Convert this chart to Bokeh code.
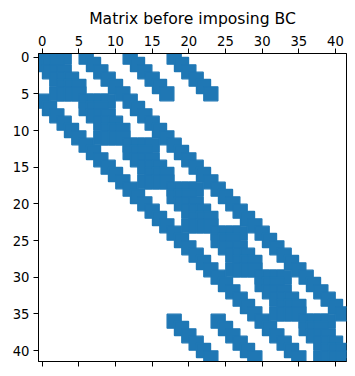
import numpy as np
from bokeh.plotting import figure
from bokeh.models import FixedTicker, LinearAxis, Range1d
from bokeh.embed import file_html
from bokeh.resources import INLINE

N = 42
NX = 6
NY = 7

# stencils that define the sparsity pattern (relative grid indices)
x_stencil = {0: [0, 1, 2, 3], 5: [2, 3, 4, 5]}
y_stencil = {0: [0, 1, 2, 3], 6: [3, 4, 5, 6]}

rows_list = []
cols_list = []
for j in range(NY):
    for i in range(NX):
        n = NX * j + i
        xs = x_stencil.get(i, [i - 1, i, i + 1])
        ys = y_stencil.get(j, [j - 1, j, j + 1])
        for ii in xs:
            rows_list.append(n)
            cols_list.append(NX * j + ii)
        for jj in ys:
            if jj != j:
                rows_list.append(n)
                cols_list.append(NX * jj + i)

tick_vals = [0, 5, 10, 15, 20, 25, 30, 35, 40]

p = figure(width=355, height=376, output_backend="svg", toolbar_location=None,
           x_range=Range1d(-0.5, 41.5), y_range=Range1d(41.5, -0.5),
           x_axis_location=None, y_axis_location=None,
           min_border_left=38, min_border_right=9, min_border_top=53, min_border_bottom=15)
p.frame_width = 308
p.frame_height = 308

p.scatter(x=cols_list, y=rows_list, marker="square", size=14, line_width=1.4,
          fill_color="#1f77b4", line_color="#1f77b4")

font = "DejaVu Sans"
def style(ax, labels=True):
    ax.ticker = FixedTicker(ticks=tick_vals)
    ax.major_tick_out = 5
    ax.major_tick_in = 0
    ax.minor_tick_out = 0
    ax.minor_tick_in = 0
    ax.axis_line_color = "black"
    ax.major_tick_line_color = "black"
    ax.axis_line_width = 1
    ax.major_label_text_font = font
    ax.major_label_text_font_size = "13.2px"
    ax.major_label_text_color = "black"
    ax.major_label_standoff = 4
    if not labels:
        ax.major_label_text_alpha = 0
        ax.major_label_text_font_size = "1px"

ax_top = LinearAxis(); style(ax_top)
ax_top.major_label_standoff = 3
ax_bot = LinearAxis(); style(ax_bot, labels=False)
ax_left = LinearAxis(); style(ax_left)
p.add_layout(ax_top, "above")
p.add_layout(ax_bot, "below")
p.add_layout(ax_left, "left")

p.xgrid.visible = False
p.ygrid.visible = False
p.outline_line_color = "black"
p.outline_line_alpha = 1
p.background_fill_color = "white"
p.border_fill_color = "white"

p.title.text = "Matrix before imposing BC"
p.title.align = "center"
p.title.text_font = font
p.title.text_font_size = "15.6px"
p.title.text_font_style = "normal"
p.title.text_color = "black"

open("out.html", "w").write(file_html(p, INLINE))
